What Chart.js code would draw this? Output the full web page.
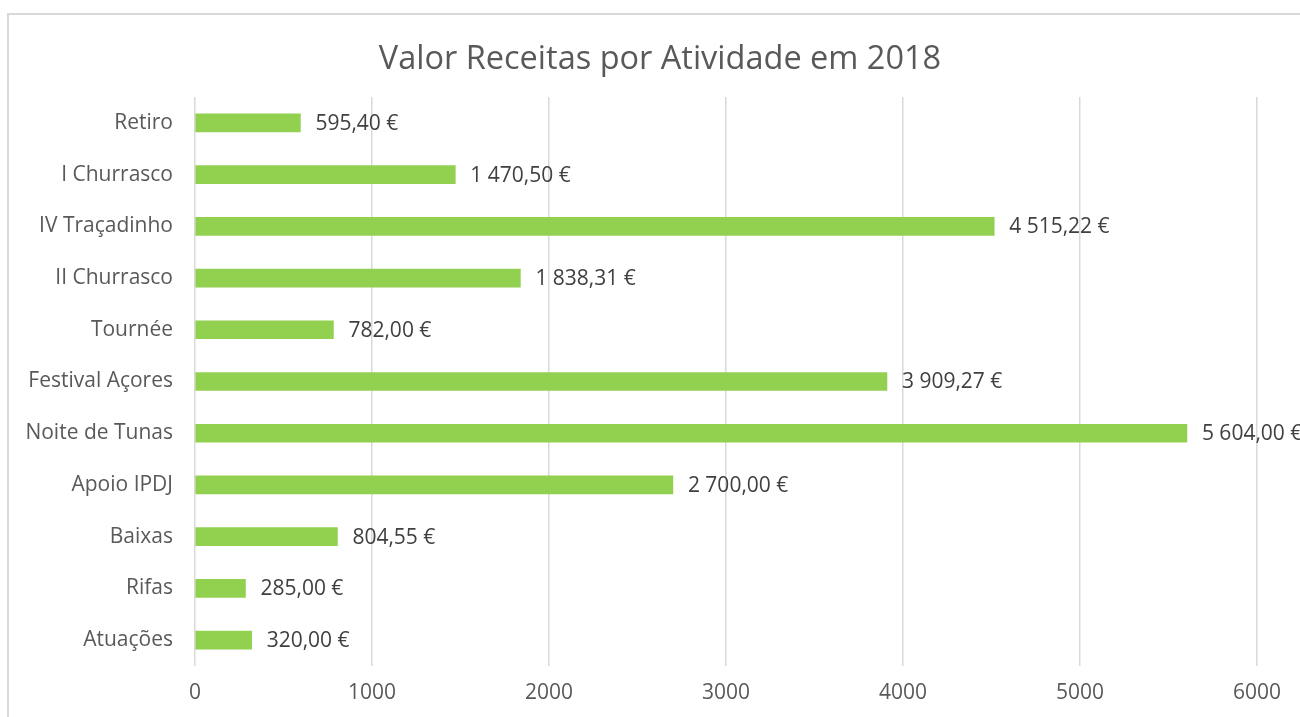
<!DOCTYPE html>
<html>
<head>
<meta charset="utf-8">
<script src="https://cdn.jsdelivr.net/npm/chart.js@4"></script>
<style>
  html, body { margin: 0; padding: 0; background: #fff; overflow: hidden; }
  #frame { position: absolute; left: 7px; top: 13px; width: 1310px; height: 720px; border: 2px solid #d9d9d9; box-sizing: border-box; }
  #wrap { position: absolute; left: 0; top: 0; width: 1300px; height: 717px; }
</style>
</head>
<body>
<div id="frame"></div>
<div id="wrap"><canvas id="barChart"></canvas></div>
<script>
// dados do gráfico
const chartTitle = 'Valor Receitas por Atividade em 2018';
const atividades = ['Retiro', 'I Churrasco', 'IV Traçadinho', 'II Churrasco', 'Tournée', 'Festival Açores', 'Noite de Tunas', 'Apoio IPDJ', 'Baixas', 'Rifas', 'Atuações'];
const receitas = [595.40, 1470.50, 4515.22, 1838.31, 782.00, 3909.27, 5604.00, 2700.00, 804.55, 285.00, 320.00];
const eixoX = [0, 1000, 2000, 3000, 4000, 5000, 6000];

const fontFamily = '"Open Sans", Lato, sans-serif';

function formatEuro(v) {
    const parts = v.toFixed(2).split('.');
    const inteiro = parts[0].replace(/\B(?=(\d{3})+(?!\d))/g, ' ');
    return inteiro + ',' + parts[1] + ' €';
}

// título e rótulos desenhados à mão
const extrasPlugin = {
    id: 'extras',
    afterDatasetsDraw(chart) {
        const ctx = chart.ctx;
        ctx.save();
        ctx.fillStyle = '#595959';
        ctx.font = '32.5px ' + fontFamily;
        ctx.textAlign = 'center';
        ctx.textBaseline = 'middle';
        ctx.fillText(chartTitle, 660, 60);

        ctx.fillStyle = '#404040';
        ctx.font = '21px ' + fontFamily;
        ctx.textAlign = 'left';
        const meta = chart.getDatasetMeta(0);
        meta.data.forEach((bar, i) => {
            ctx.fillText(formatEuro(receitas[i]), bar.x + 15, bar.y + 1);
        });
        ctx.restore();
    },
};

const barCanvas = document.querySelector('#barChart');

if (barCanvas && typeof Chart !== 'undefined') {
    new Chart(barCanvas, {
        type: 'bar',
        data: {
            labels: atividades,
            datasets: [
                {
                    label: 'Receitas',
                    data: receitas,
                    backgroundColor: '#92D050',
                    borderWidth: 0,
                    barThickness: 18,
                },
            ],
        },
        options: {
            indexAxis: 'y',
            responsive: true,
            maintainAspectRatio: false,
            animation: false,
            layout: { padding: { top: 97, right: 43, bottom: 0, left: 0 } },
            scales: {
                x: {
                    min: 0,
                    max: 6000,
                    afterBuildTicks: (axis) => { axis.ticks = eixoX.map((v) => ({ value: v })); },
                    afterFit: (axis) => { axis.height = 51; },
                    grid: { color: '#d9d9d9', lineWidth: 1.5, drawTicks: false },
                    border: { display: false },
                    ticks: {
                        padding: 14,
                        color: '#595959',
                        font: { family: fontFamily, size: 21 },
                        callback: (v) => String(v),
                    },
                },
                y: {
                    afterFit: (axis) => { axis.width = 195; },
                    grid: { display: false, drawTicks: false },
                    border: { display: false },
                    ticks: { padding: 22, color: '#595959', font: { family: fontFamily, size: 21 } },
                },
            },
            plugins: {
                legend: { display: false },
                tooltip: { enabled: false },
            },
        },
        plugins: [extrasPlugin],
    });
}
</script>
</body>
</html>
